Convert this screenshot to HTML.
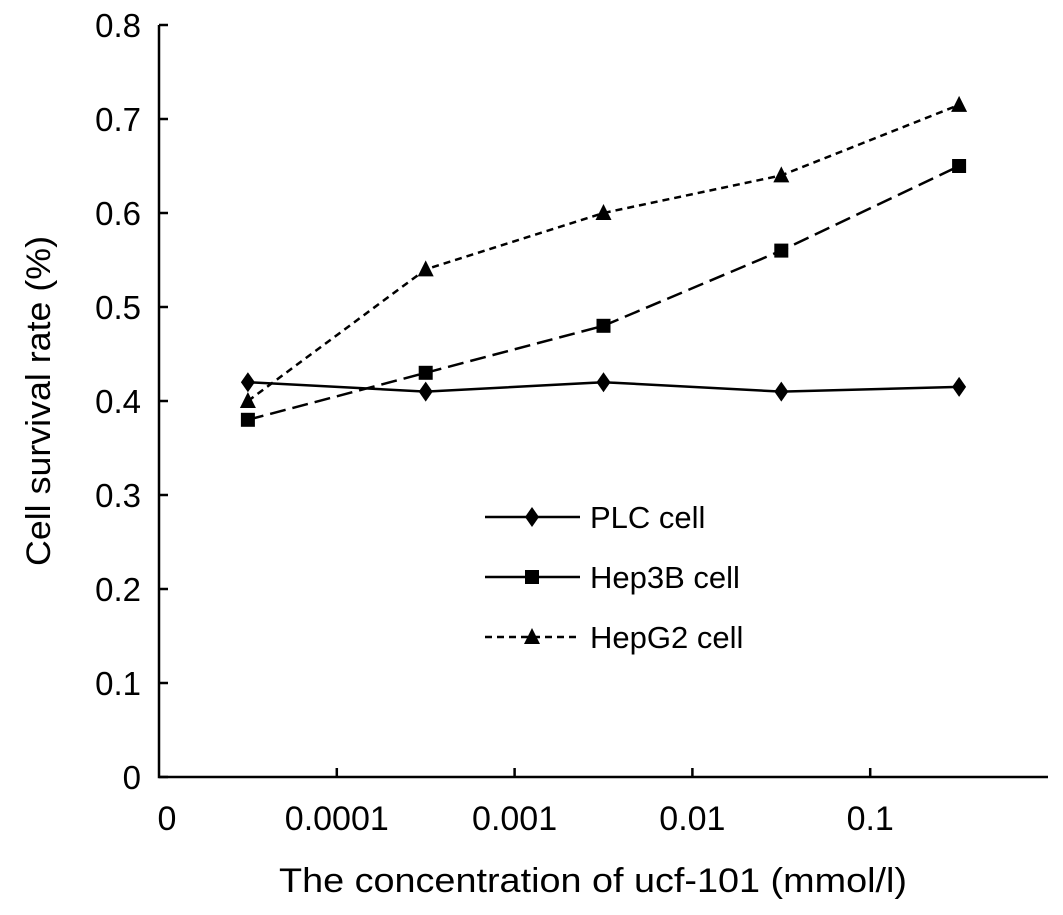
<!DOCTYPE html>
<html><head><meta charset="utf-8"><style>
body{margin:0;background:#fff;}
svg text{font-family:"Liberation Sans",sans-serif;fill:#000;}
</style></head><body>
<svg id="chart" width="1063" height="910">
<g id="axes"></g><g id="series"></g><g id="legend"></g>
</svg>
<script>
const categories=["0.00003","0.0003","0.003","0.03","0.3"];
const xTickLabels=["0","0.0001","0.001","0.01","0.1"];
const yTickLabels=["0","0.1","0.2","0.3","0.4","0.5","0.6","0.7","0.8"];
const plcValues=[0.42,0.41,0.42,0.41,0.415];
const hep3bValues=[0.38,0.43,0.48,0.56,0.65];
const hepg2Values=[0.40,0.54,0.60,0.64,0.715];
const seriesNames=["PLC cell","Hep3B cell","HepG2 cell"];

const NS="http://www.w3.org/2000/svg";
const x0=159,x1=1048,y0=777,yTop=25,yMax=0.8;
const bandW=(x1-x0)/5;
function xs(i){return x0+bandW*(i+0.5);}
function ys(v){return y0-(v/yMax)*(y0-yTop);}
function mk(tag,attrs,parent){const e=document.createElementNS(NS,tag);for(const k in attrs)e.setAttribute(k,attrs[k]);parent.appendChild(e);return e;}
const axes=document.getElementById('axes'),ser=document.getElementById('series'),leg=document.getElementById('legend');

let e=mk('path',{d:`M${x0},${yTop} V${y0} H${x1}`,fill:'none',stroke:'#000','stroke-width':2.5},axes);


yTickLabels.forEach((t,i)=>{
  const v=i*0.1,y=ys(v);
  const l=mk('line',{x1:x0,x2:x0+9,y1:y,y2:y,stroke:'#000','stroke-width':2.5},axes);
  
  
  const tx=mk('text',{x:x0-18,y:y+12,'text-anchor':'end','font-size':33},axes);tx.textContent=t;
  
  
});
xTickLabels.forEach((t,i)=>{
  const x=x0+bandW*i;
  if(i>0){const l=mk('line',{x1:x,x2:x,y1:y0,y2:y0-9,stroke:'#000','stroke-width':2.5},axes);
  
  }
  const tx=mk('text',{x:i==0?167:x,y:830,'text-anchor':'middle','font-size':34},axes);tx.textContent=t;
  
  
});
let yt=mk('text',{x:0,y:0,'text-anchor':'middle','font-size':34,textLength:330,lengthAdjust:'spacingAndGlyphs',transform:`translate(50,${(yTop+y0)/2}) rotate(-90)`},axes);
yt.textContent="Cell survival rate (%)";


let xt=mk('text',{x:593,y:892,'text-anchor':'middle','font-size':34,textLength:628,lengthAdjust:'spacingAndGlyphs'},axes);
xt.textContent="The concentration of ucf-101 (mmol/l)";



function marker(type,x,y,p){
  let m;
  if(type==0)m=mk('polygon',{points:`${x},${y-10} ${x+7},${y} ${x},${y+10} ${x-7},${y}`},p);
  else if(type==1)m=mk('rect',{x:x-7,y:y-7,width:14,height:14},p);
  else m=mk('polygon',{points:`${x},${y-9} ${x+8},${y+7} ${x-8},${y+7}`},p);
  m.setAttribute('fill','#000');
  return m;
}
const dashes=["none","16,7","7,5"];
[plcValues,hep3bValues,hepg2Values].forEach((vals,s)=>{
  const g=mk('g',{},ser);
  
  
  const pl=mk('polyline',{points:vals.map((v,i)=>xs(i)+','+ys(v)).join(' '),fill:'none',stroke:'#000','stroke-width':2.5,'stroke-dasharray':dashes[s]},g);
  
  
  vals.forEach((v,i)=>{const m=marker(s,xs(i),ys(v),g);
    
    });
  const ly=517+60*s;
  const lg=mk('g',{},leg);
  
  
  mk('line',{x1:485,x2:580,y1:ly,y2:ly,stroke:'#000','stroke-width':2.5,'stroke-dasharray':s==2?'7,5':'none'},lg);
  marker(s,532,ly,lg);
  const t=mk('text',{x:590,y:ly+11,'font-size':31},lg);t.textContent=seriesNames[s];
});
</script>
</body></html>
